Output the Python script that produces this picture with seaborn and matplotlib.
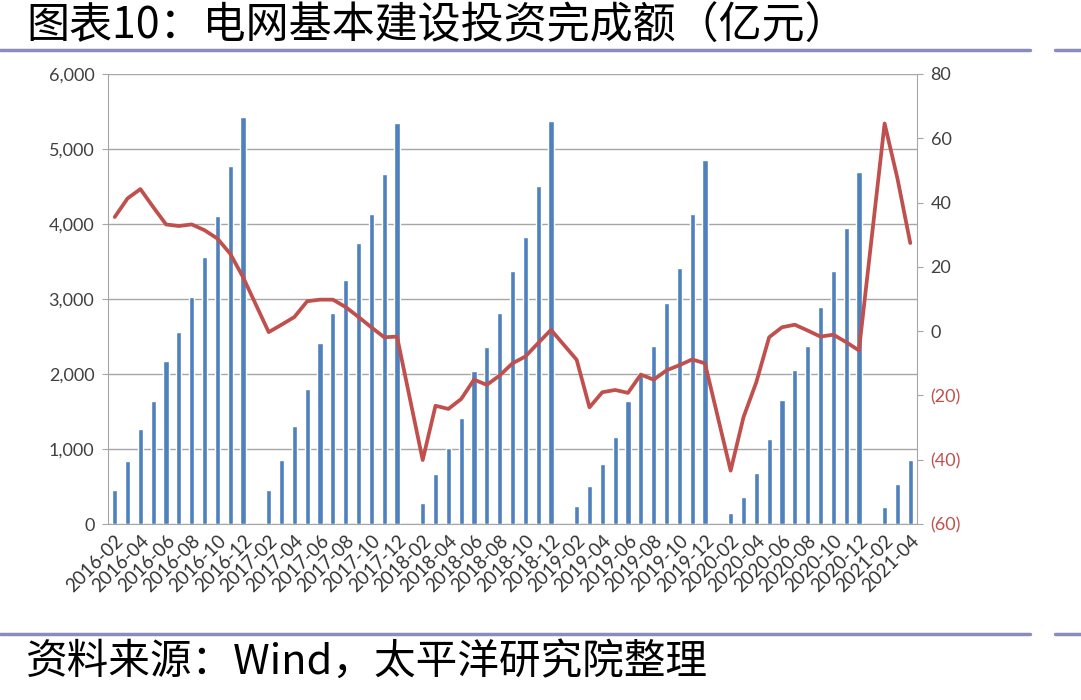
import matplotlib
matplotlib.use("Agg")
import matplotlib.pyplot as plt
import seaborn as sns
import pandas as pd
import numpy as np
from matplotlib.lines import Line2D

# monthly categories, January has no data (Jan-Feb reported together)
months = [p.strftime('%Y-%m') for p in pd.period_range('2016-02', '2021-04', freq='M')]

# 电网基本建设投资完成额 (亿元), cumulative per year
invest = [453, 840, 1262, 1644, 2178, 2564, 3022, 3564, 4111, 4773, 5431,
          None,
          453, 853, 1311, 1796, 2409, 2809, 3253, 3742, 4129, 4667, 5342,
          None,
          276, 662, 1009, 1409, 2044, 2356, 2809, 3373, 3822, 4507, 5377,
          None,
          240, 507, 800, 1164, 1644, 2009, 2373, 2951, 3418, 4129, 4853,
          None,
          142, 364, 676, 1133, 1653, 2053, 2378, 2898, 3378, 3942, 4698,
          None,
          222, 533, 853]

# 同比增速 (%)
growth = [35.5, 41.3, 44.2, 38.6, 33.2, 32.7, 33.2, 31.4, 28.8, 24.1, 16.8,
          None,
          -0.3, 2.0, 4.4, 9.3, 9.8, 9.8, 7.5, 4.4, 1.2, -1.9, -1.7,
          None,
          -40.1, -23.2, -24.2, -21.1, -15.1, -16.7, -13.8, -10.0, -7.9, -3.7, 0.4,
          None,
          -8.9, -23.7, -19.0, -18.3, -19.2, -13.5, -15.1, -12.2, -10.6, -8.8, -10.0,
          None,
          -43.4, -26.8, -15.9, -1.9, 1.2, 2.0, 0.2, -1.7, -1.1, -3.4, -6.0,
          None,
          64.6, 47.5, 27.4]

left_ticks = [0, 1000, 2000, 3000, 4000, 5000, 6000]
right_ticks = [-60, -40, -20, 0, 20, 40, 60, 80]

title = "图表10：电网基本建设投资完成额（亿元）"
source = "资料来源：Wind，太平洋研究院整理"

BLUE = '#4f81bd'
RED = '#c0504d'
GRID = '#a6a6a6'
TXT = '#404040'
RULE = '#8c8cb8'

sns.set_style('white')
plt.rcParams['font.family'] = ['Lato', 'Noto Sans CJK SC', 'DejaVu Sans']

df = pd.DataFrame({'month': months,
                   'invest': pd.to_numeric(pd.Series(invest), errors='coerce'),
                   'growth': pd.to_numeric(pd.Series(growth), errors='coerce')})
df['pos'] = np.arange(len(df))

fig = plt.figure(figsize=(10.81, 7), dpi=100)
ax = fig.add_axes([0.1002, 0.2514, 0.7478, 0.6429])

sns.barplot(data=df, x='month', y='invest', order=months, color=BLUE,
            saturation=1, width=0.4, errorbar=None, ax=ax)

ax2 = ax.twinx()
line_df = df.dropna(subset=['growth'])
sns.lineplot(data=line_df, x='pos', y='growth', ax=ax2, color=RED, lw=2.7)

ax.set_xlim(-0.5, len(months) - 0.5)
ax.set_ylim(0, 6000)
ax2.set_ylim(-60, 80)

# left axis
ax.set_yticks(left_ticks)
ax.set_yticklabels([f'{v:,}' for v in left_ticks], fontsize=13, color=TXT)
ax.yaxis.grid(True, color=GRID, lw=1)
ax.set_axisbelow(True)
ax.set_xlabel('')
ax.set_ylabel('')

# x axis, labels every two months
ax.set_xticks(range(0, len(months), 2))
ax.set_xticklabels(months[::2], rotation=45, ha='right', rotation_mode='anchor',
                   fontsize=13.5, color='#333333')
ax.set_xticks(np.arange(-0.5, len(months), 2), minor=True)
ax.tick_params(axis='x', which='major', length=0, pad=6)
ax.tick_params(axis='x', which='minor', length=4, color=GRID, direction='out')
ax.tick_params(axis='y', length=4, color=GRID, direction='out', left=True, pad=6)

# right axis
ax2.set_yticks(right_ticks)
ax2.set_yticklabels([f'({-v})' if v < 0 else str(v) for v in right_ticks], fontsize=13)
for lab, v in zip(ax2.get_yticklabels(), right_ticks):
    lab.set_color(RED if v < 0 else TXT)
ax2.tick_params(axis='y', length=4, color=GRID, direction='out', right=True, pad=6)
ax2.set_ylabel('')
ax2.set_xlabel('')

for a in (ax, ax2):
    a.spines['top'].set_visible(False)
ax.spines['right'].set_visible(False)
ax2.spines['left'].set_visible(False)
ax2.spines['bottom'].set_visible(False)
ax.spines['left'].set_color(GRID)
ax.spines['bottom'].set_color(GRID)
ax2.spines['right'].set_color(GRID)

# title, source and rules
fig.text(0.024, 0.962, title, fontsize=31, family=['Noto Sans CJK SC', 'DejaVu Sans'],
         va='center', ha='left', color='black')
fig.text(0.024, 0.054, source, fontsize=30, family=['Noto Sans CJK SC', 'DejaVu Sans'],
         va='center', ha='left', color='black', style='italic')
for yy in (1 - 50 / 700, 1 - 634 / 700):
    fig.add_artist(Line2D([0, 1030 / 1081], [yy, yy], color=RULE, lw=2.5,
                          transform=fig.transFigure))
    fig.add_artist(Line2D([1055 / 1081, 1], [yy, yy], color=RULE, lw=2.5,
                          transform=fig.transFigure))

fig.savefig('out.png', dpi=100)
